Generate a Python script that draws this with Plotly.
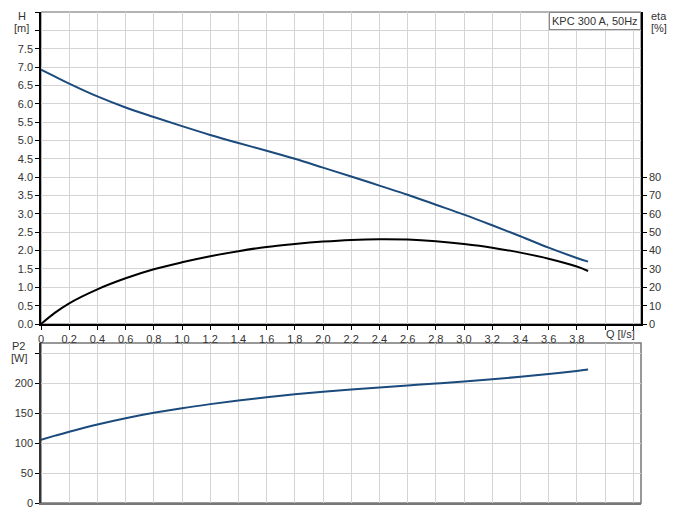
import plotly.graph_objects as go

# Flow [l/s]
Q = [0, 0.1, 0.2, 0.4, 0.6, 0.8, 1.0, 1.2, 1.4, 1.6, 1.8, 2.0, 2.2, 2.4, 2.6, 2.8, 3.0, 3.2, 3.4, 3.6, 3.8, 3.88]
# Head [m]
H = [6.93, 6.74, 6.55, 6.20, 5.90, 5.64, 5.39, 5.15, 4.93, 4.72, 4.50, 4.26, 4.02, 3.77, 3.52, 3.25, 2.98, 2.69, 2.39, 2.08, 1.80, 1.70]
# Efficiency [%]
ETA = [0, 6.2, 11.3, 18.9, 24.9, 29.8, 33.6, 36.9, 39.7, 42.0, 43.6, 44.9, 45.8, 46.2, 46.0, 45.1, 43.6, 41.6, 38.9, 35.6, 31.3, 28.9]
# Power P2 [W]
P2 = [105.5, 112.4, 119.0, 131.0, 141.5, 150.5, 158.3, 165.0, 171.0, 176.5, 181.3, 185.5, 189.3, 192.8, 196.1, 199.4, 202.8, 206.5, 210.6, 215.2, 220.3, 222.6]

Q_TICKS = [round(0.2 * i, 1) for i in range(22)]
Q_LABELS = [("0" if v == 0 else f"{v:.1f}".replace(".", ",")) if v <= 3.8 else "" for v in Q_TICKS]
H_TICKS = [0.5 * i for i in range(18)]
H_LABELS = [f"{v:.1f}" if v <= 7.5 else "" for v in H_TICKS]
ETA_TICKS = [10 * i for i in range(9)]
P_TICKS = [0, 50, 100, 150, 200, 250]
P_LABELS = ["0", "50", "100", "150", "200", ""]

BLUE = "#1b4a7c"
GRID = "#d4d4d4"
FONT = "Liberation Sans, Arial, sans-serif"

fig = go.Figure()
fig.add_trace(go.Scatter(x=Q, y=H, mode="lines", line=dict(color=BLUE, width=2, shape="spline"),
                         xaxis="x", yaxis="y", showlegend=False, hoverinfo="skip"))
fig.add_trace(go.Scatter(x=Q, y=ETA, mode="lines", line=dict(color="black", width=2, shape="spline"),
                         xaxis="x", yaxis="y2", showlegend=False, hoverinfo="skip"))
fig.add_trace(go.Scatter(x=Q, y=P2, mode="lines", line=dict(color=BLUE, width=2, shape="spline"),
                         xaxis="x2", yaxis="y3", showlegend=False, hoverinfo="skip"))

TOP0 = (503 - 324) / 491
BOT1 = (503 - 343) / 491
XR = [0, 600 / 141]

common_tick = dict(size=11, color="#333333", family=FONT)

# page body has an 8px margin, so the figure is shrunk and margins shifted to compensate
fig.update_layout(
    width=661, height=500,
    margin=dict(l=33, r=28, t=4, b=5),
    paper_bgcolor="white", plot_bgcolor="white",
    font=dict(family=FONT, size=11, color="#333333"),
    xaxis=dict(domain=[0, 1], anchor="y", range=XR, tickvals=Q_TICKS, ticktext=Q_LABELS,
               showgrid=True, gridcolor=GRID, gridwidth=1, zeroline=False,
               showline=True, linecolor="black", linewidth=1.5, ticks="outside", ticklen=4,
               tickcolor="black", tickfont=common_tick, automargin=False),
    yaxis=dict(domain=[TOP0, 1], anchor="x", range=[0, 8.5], tickvals=H_TICKS, ticktext=H_LABELS,
               showgrid=True, gridcolor=GRID, gridwidth=1, zeroline=False,
               showline=True, linecolor="black", linewidth=1.5, ticks="outside", ticklen=4,
               tickcolor="black", tickfont=common_tick, automargin=False),
    yaxis2=dict(overlaying="y", anchor="x", side="right", range=[0, 170], tickvals=ETA_TICKS,
                showgrid=False, zeroline=False, showline=True, linecolor="black", linewidth=1.5,
                ticks="outside", ticklen=4, tickcolor="black", tickfont=common_tick, automargin=False),
    xaxis2=dict(domain=[0, 1], anchor="y3", range=XR, tickvals=Q_TICKS, showticklabels=False,
                showgrid=True, gridcolor=GRID, gridwidth=1, zeroline=False,
                showline=True, linecolor="#777777", linewidth=1.5, ticks="", automargin=False),
    yaxis3=dict(domain=[0, BOT1], anchor="x2", range=[0, 267], tickvals=P_TICKS, ticktext=P_LABELS,
                showgrid=True, gridcolor=GRID, gridwidth=1, zeroline=False,
                showline=True, linecolor="#333333", linewidth=1.5, ticks="outside", ticklen=4,
                tickcolor="black", tickfont=common_tick, automargin=False,
                ticklabeloverflow="allow"),
    shapes=[
        dict(type="rect", xref="paper", yref="paper", x0=0, x1=1, y0=TOP0, y1=1,
             line=dict(color="#666666", width=1), layer="below"),
        dict(type="rect", xref="paper", yref="paper", x0=0, x1=1, y0=0, y1=BOT1,
             line=dict(color="#777777", width=1.5), layer="below"),
    ],
)


def px_x(p):
    return (p - 41) / 600


def px_y(p):
    return (503 - p) / 491


left_labels = [
    ("H", 16, 16), ("[m]", 12, 28),
    ("P2", 10, 346), ("[W]", 9, 358),
]
for txt, x, y in left_labels:
    fig.add_annotation(text=txt, x=px_x(x), y=px_y(y), xref="paper", yref="paper",
                       showarrow=False, xanchor="left", yanchor="middle",
                       font=dict(size=11, color="#333333", family=FONT))

right_labels = [("eta", 669, 16), ("[%]", 669, 28), ("Q [l/s]", 637, 334)]
for txt, x, y in right_labels:
    fig.add_annotation(text=txt, x=px_x(x), y=px_y(y), xref="paper", yref="paper",
                       showarrow=False, xanchor="right", yanchor="middle",
                       font=dict(size=11, color="#333333", family=FONT))

fig.add_annotation(text="KPC 300 A, 50Hz", x=1, y=1, xref="paper", yref="paper",
                   showarrow=False, xanchor="right", yanchor="top",
                   bgcolor="white", bordercolor="#888888", borderwidth=1, borderpad=2,
                   font=dict(size=11, color="#333333", family=FONT))

fig.write_html("out.html")
